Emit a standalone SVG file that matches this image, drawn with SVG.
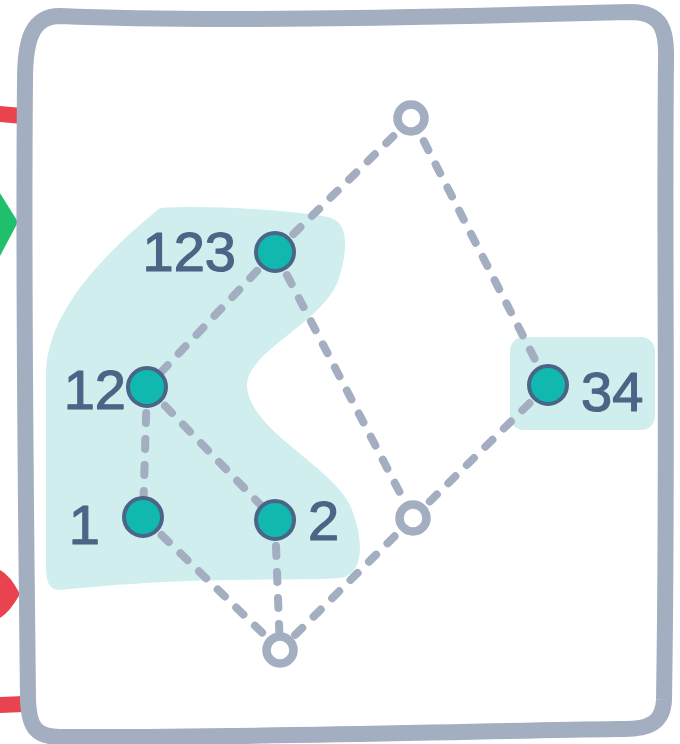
<svg xmlns="http://www.w3.org/2000/svg" width="680" height="744" viewBox="0 0 680 744">
<style>
.edge{fill:none;stroke:#a3aec0;stroke-width:8;stroke-linecap:round;stroke-dasharray:10 16}
.dot{fill:#10b8b0;stroke:#4a6585;stroke-width:4}
.hollow{fill:#ffffff;stroke:#a3aec0;stroke-width:8.5}
.lbl{font-family:"Liberation Sans",Arial,sans-serif;font-size:56px;fill:#4a6585;stroke:#4a6585;stroke-width:1.2;stroke-linejoin:round}
.blob{fill:#d0eeee}
</style>
<rect width="680" height="744" fill="#ffffff"/>
<g id="outside">
<path d="M0 106 L22 108 L22 124 L0 122 Z" fill="#e8434f"/>
<path d="M-20 225 L-2 190 L18 222 L0 256 Z" fill="#1fbf6b"/>
<path d="M-18 594 Q-10 570 0 570 Q10 575 20 594 Q10 612 0 618 Q-12 616 -18 594 Z" fill="#e8434f"/>
<path d="M0 697 L24 696 L24 712 L0 713 Z" fill="#e8434f"/>
</g>
<g id="frame">
<path d="M60 16 C200 22 400 18 630 12 C662 12 667 30 666 60 C664 250 668 450 664 700 C663 722 650 730 620 729 C420 732 250 738 60 737 C35 737 29 726 28 700 C26 500 23 300 25 80 C25 40 32 16 60 16 Z" fill="#ffffff" stroke="#a3aec0" stroke-width="16" stroke-linejoin="round"/>
</g>
<g id="groups">
<path class="blob" d="M160 208 C210 205 290 210 328 217 C350 222 347 250 340 275 C328 322 245 350 247 387 C250 430 330 465 350 505 C365 540 364 575 340 578 C290 582 200 575 60 590 C45 590 46 575 46 555 L46 375 C46 320 90 265 160 208 Z"/>
<rect id="group34" class="blob" x="510" y="337" width="145" height="93" rx="14"/>
</g>
<g id="connectors">
<line class="edge" x1="412" y1="118" x2="275" y2="252"/>
<line class="edge" x1="412" y1="118" x2="548" y2="385"/>
<line class="edge" x1="275" y1="252" x2="147" y2="387"/>
<line class="edge" x1="275" y1="252" x2="413" y2="518"/>
<line class="edge" x1="147" y1="387" x2="143" y2="517"/>
<line class="edge" x1="147" y1="387" x2="275" y2="520"/>
<line class="edge" x1="143" y1="517" x2="280" y2="650"/>
<line class="edge" x1="275" y1="520" x2="280" y2="650"/>
<line class="edge" x1="413" y1="518" x2="280" y2="650"/>
<line class="edge" x1="548" y1="385" x2="413" y2="518"/>
</g>
<g id="n-top"><circle class="hollow" cx="411" cy="118" r="13.5"/></g>
<g id="n-mid"><circle class="hollow" cx="413" cy="518" r="13.5"/></g>
<g id="n-bottom"><circle class="hollow" cx="280" cy="650" r="13.5"/></g>
<g id="n-123"><circle class="dot" cx="275" cy="252" r="19"/><text class="lbl" x="236" y="271" text-anchor="end">123</text></g>
<g id="n-12"><circle class="dot" cx="147" cy="387" r="19"/><text class="lbl" x="126" y="409" text-anchor="end">12</text></g>
<g id="n-1"><circle class="dot" cx="143" cy="517" r="19"/><text class="lbl" x="100" y="544" text-anchor="end">1</text></g>
<g id="n-2"><circle class="dot" cx="275" cy="520" r="19"/><text class="lbl" x="308" y="540">2</text></g>
<g id="n-34"><circle class="dot" cx="548" cy="385" r="19"/><text class="lbl" x="581" y="411">34</text></g>
</svg>
